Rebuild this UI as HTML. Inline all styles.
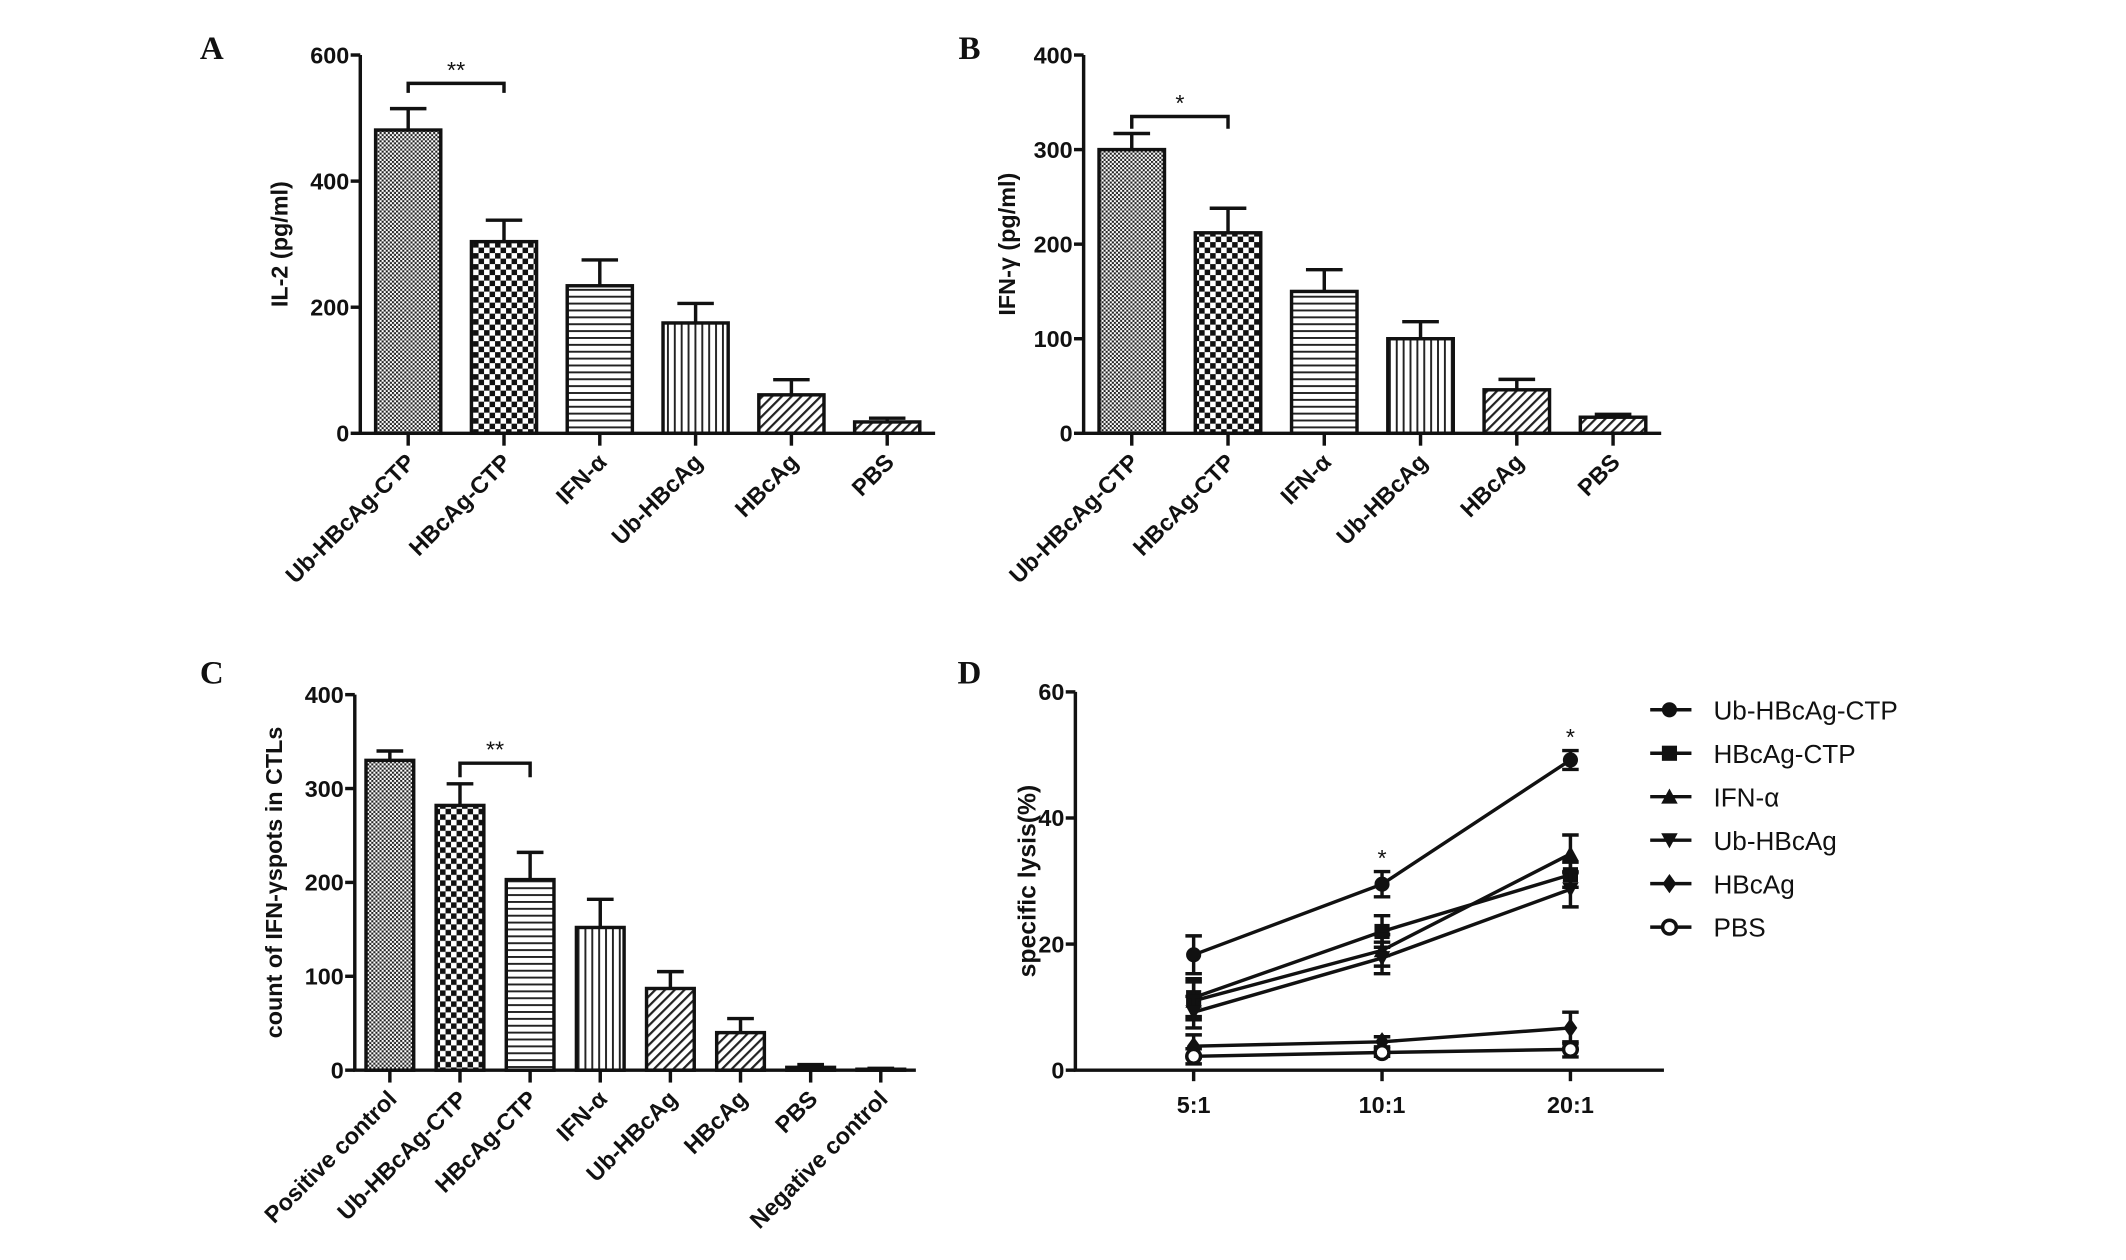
<!DOCTYPE html>
<html><head><meta charset="utf-8"><style>
html,body{margin:0;padding:0;background:#fff}
svg{display:block}
text{font-family:"Liberation Sans",Arial,sans-serif;font-weight:bold;fill:#111}
text.serif{font-family:"Liberation Serif",serif;font-weight:bold}
text.norm{font-weight:normal}
</style></head><body>
<svg id="fig" width="2126" height="1260" viewBox="0 0 1546 916" preserveAspectRatio="none" xmlns="http://www.w3.org/2000/svg">
<defs>
<pattern id="pFine" width="3" height="3" patternUnits="userSpaceOnUse"><rect width="3" height="3" fill="#fff"/><rect width="1.5" height="1.5" fill="#222"/><rect x="1.5" y="1.5" width="1.5" height="1.5" fill="#222"/></pattern>
<pattern id="pCheck" width="8" height="8" patternUnits="userSpaceOnUse"><rect width="8" height="8" fill="#fff"/><rect width="4" height="4" fill="#111"/><rect x="4" y="4" width="4" height="4" fill="#111"/></pattern>
<pattern id="pHoriz" width="6" height="5" patternUnits="userSpaceOnUse"><rect width="6" height="5" fill="#fff"/><rect y="0" width="6" height="1.4" fill="#222"/></pattern>
<pattern id="pVert" width="5" height="6" patternUnits="userSpaceOnUse"><rect width="5" height="6" fill="#fff"/><rect x="0" width="1.4" height="6" fill="#222"/></pattern>
<pattern id="pDiag" width="5" height="5" patternUnits="userSpaceOnUse" patternTransform="rotate(45)"><rect width="5" height="5" fill="#fff"/><rect width="1.6" height="5" fill="#222"/></pattern>
</defs>
</svg>
<script>
// ---- Panel A data ----
const catsA = ["Ub-HBcAg-CTP","HBcAg-CTP","IFN-α","Ub-HBcAg","HBcAg","PBS"];
const valsA = [481, 304, 234, 175, 61, 18];
const errsA = [34, 34, 41, 31, 24, 6];
const ticksA = [0, 200, 400, 600];
// ---- Panel B data ----
const catsB = ["Ub-HBcAg-CTP","HBcAg-CTP","IFN-α","Ub-HBcAg","HBcAg","PBS"];
const valsB = [300, 212, 150, 100, 46, 17];
const errsB = [17, 26, 23, 18, 11, 3];
const ticksB = [0, 100, 200, 300, 400];
// ---- Panel C data ----
const catsC = ["Positive control","Ub-HBcAg-CTP","HBcAg-CTP","IFN-α","Ub-HBcAg","HBcAg","PBS","Negative control"];
const valsC = [330, 282, 203, 152, 87, 40, 3, 1];
const errsC = [10, 23, 29, 30, 18, 15, 3, 1];
const ticksC = [0, 100, 200, 300, 400];
// ---- Panel D data ----
const catsD = ["5:1","10:1","20:1"];
const seriesNames = ["Ub-HBcAg-CTP","HBcAg-CTP","IFN-α","Ub-HBcAg","HBcAg","PBS"];
const dUbCTP = [18.3, 29.5, 49.2];
const dHCTP  = [11.5, 22.0, 31.0];
const dIFN   = [11.0, 19.0, 34.3];
const dUb    = [9.2, 17.8, 28.7];
const dHBc   = [3.8, 4.5, 6.7];
const dPBS   = [2.2, 2.8, 3.3];
const eUbCTP = [3.0, 2.0, 1.5];
const eHCTP  = [3.0, 2.5, 2.0];
const eIFN   = [3.0, 2.5, 3.0];
const eUb    = [2.5, 2.5, 2.8];
const eHBc   = [1.8, 0.8, 2.5];
const ePBS   = [1.2, 0.6, 1.2];
const ticksD = [0, 20, 40, 60];

const NS = "http://www.w3.org/2000/svg";
const svg = document.getElementById('fig');
function el(tag, attrs, parent){
  const e = document.createElementNS(NS, tag);
  for (const k in attrs) e.setAttribute(k, attrs[k]);
  (parent||svg).appendChild(e); return e;
}
function txt(x,y,s,size,anchor,parent,extra){
  const t = el('text',Object.assign({x:x,y:y,'font-size':size,'text-anchor':anchor||'middle'},extra||{}),parent);
  t.textContent = s; return t;
}

function barPanel(id, letter, lx, ly, x0, x1, yTop, yBot, max, cats, vals, errs, ticks, pats, ytitle, ttlX, bracket){
  const g = el('g',{});
  
  
  const Y = v => yBot - (v/max)*(yBot-yTop);
  const step = (x1-x0)/cats.length;
  const X = i => x0 + step*(i+0.5);
  const L = txt(lx,ly,letter,24,'middle',g,{'class':'serif'});
  
  
  cats.forEach((c,i)=>{
    const bw = step*0.68;
    const top = Y(vals[i]), et = Y(vals[i]+errs[i]);
    const eb = el('path',{d:`M${X(i)} ${top} V${et} M${X(i)-bw*0.28} ${et} H${X(i)+bw*0.28}`,stroke:'#111','stroke-width':2.5,fill:'none'},g);
    
    
    const r = el('rect',{x:X(i)-bw/2,y:top,width:bw,height:yBot-top,fill:'url(#'+pats[i]+')',stroke:'#111','stroke-width':2.5},g);
    
    
    el('line',{x1:X(i),x2:X(i),y1:yBot,y2:yBot+9,stroke:'#111','stroke-width':2.5},g);
    const t = txt(0,0,c,17,'end',g,{transform:`translate(${X(i)+6},${yBot+22}) rotate(-45)`});
    
    
  });
  const ax = el('path',{d:`M${x0} ${yTop} V${yBot} H${x1}`,stroke:'#111','stroke-width':2.5,fill:'none'},g);
  
  
  ticks.forEach(v=>{
    el('line',{x1:x0-7,x2:x0,y1:Y(v),y2:Y(v),stroke:'#111','stroke-width':2.5},g);
    const t = txt(x0-8,Y(v)+6,String(v),17,'end',g);
    
    
  });
  const yt = txt(0,0,ytitle,17,'middle',g,{transform:`translate(${ttlX},${(yTop+yBot)/2}) rotate(-90)`});
  
  
  const [a,b,lvl,drop,stars] = bracket;
  const bp = el('path',{d:`M${X(a)} ${Y(drop)} V${Y(lvl)} H${X(b)} V${Y(drop)}`,stroke:'#111','stroke-width':2.5,fill:'none'},g);
  
  
  const st = txt((X(a)+X(b))/2,Y(lvl)-4,stars,17,'middle',g,{'class':'norm'});
  
  
}

barPanel('a','A',154,43,262,680,40,315,600,catsA,valsA,errsA,ticksA,
  ['pFine','pCheck','pHoriz','pVert','pDiag','pDiag'],'IL-2 (pg/ml)',209,[0,1,555,540,'**']);
barPanel('b','B',705,43,788,1208,40,315,400,catsB,valsB,errsB,ticksB,
  ['pFine','pCheck','pHoriz','pVert','pDiag','pDiag'],'IFN-γ  (pg/ml)',738,[0,1,335,322,'*']);
barPanel('c','C',154,497,258,666,505,778,400,catsC,valsC,errsC,ticksC,
  ['pFine','pCheck','pHoriz','pVert','pDiag','pDiag','pDiag','pDiag'],'count of IFN-γspots in CTLs',205,[1,2,327,312,'**']);

(function(){
  const g = el('g',{});
  
  
  const x0=782,x1=1210,yTop=503,yBot=778,max=60;
  const Y = v => yBot - (v/max)*(yBot-yTop);
  const xs=[868,1005,1142];
  const X = i => xs[0] + i*(xs[1]-xs[0]);
  const L = txt(705,497,'D',24,'middle',g,{'class':'serif'});
  
  
  const ax = el('path',{d:`M${x0} ${yTop} V${yBot} H${x1}`,stroke:'#111','stroke-width':2.5,fill:'none'},g);
  
  
  ticksD.forEach(v=>{
    el('line',{x1:x0-7,x2:x0,y1:Y(v),y2:Y(v),stroke:'#111','stroke-width':2.5},g);
    const t=txt(x0-8,Y(v)+6,String(v),17,'end',g);
    
    
  });
  catsD.forEach((c,i)=>{
    el('line',{x1:X(i),x2:X(i),y1:yBot,y2:yBot+8,stroke:'#111','stroke-width':2.5},g);
    const t=txt(X(i),yBot+31,c,17,'middle',g);
    
    
  });
  const yt = txt(0,0,'specific lysis(%)',18,'middle',g,{transform:`translate(753,${(yTop+yBot)/2}) rotate(-90)`});
  
  
  const data=[dUbCTP,dHCTP,dIFN,dUb,dHBc,dPBS];
  const errs=[eUbCTP,eHCTP,eIFN,eUb,eHBc,ePBS];
  const shapes=['circle','square','tri','tridown','diamond','ocircle'];
  function marker(s,x,y,p){
    if(s==='circle') return el('circle',{cx:x,cy:y,r:5.5,fill:'#111'},p);
    if(s==='ocircle') return el('circle',{cx:x,cy:y,r:5,fill:'#fff',stroke:'#111','stroke-width':2.5},p);
    if(s==='square') return el('rect',{x:x-5.5,y:y-5.5,width:11,height:11,fill:'#111'},p);
    if(s==='tri') return el('path',{d:`M${x} ${y-6} L${x+6} ${y+5} L${x-6} ${y+5}Z`,fill:'#111'},p);
    if(s==='tridown') return el('path',{d:`M${x} ${y+6} L${x+6} ${y-5} L${x-6} ${y-5}Z`,fill:'#111'},p);
    return el('path',{d:`M${x} ${y-7} L${x+5} ${y} L${x} ${y+7} L${x-5} ${y}Z`,fill:'#111'},p);
  }
  data.forEach((d,si)=>{
    const sg = el('g',{},g);
    
    
    const pts = d.map((v,i)=>X(i)+','+Y(v)).join(' ');
    const ln = el('polyline',{points:pts,fill:'none',stroke:'#111','stroke-width':2.5},sg);
    
    
    d.forEach((v,i)=>{
      const e=errs[si][i];
      const eb=el('path',{d:`M${X(i)} ${Y(v+e)} V${Y(v-e)} M${X(i)-6} ${Y(v+e)} H${X(i)+6} M${X(i)-6} ${Y(v-e)} H${X(i)+6}`,stroke:'#111','stroke-width':2.5,fill:'none'},sg);
      
      
      const m=marker(shapes[si],X(i),Y(v),sg);
      
      
    });
  });
  [1,2].forEach(i=>{
    const s=txt(X(i),Y(dUbCTP[i]+eUbCTP[i])-4,'*',17,'middle',g,{'class':'norm'});
    
    
  });
  const lg = el('g',{},g);
  
  
  seriesNames.forEach((n,i)=>{
    const y=516+i*31.6;
    const le = el('g',{},lg);
    
    
    el('line',{x1:1200,x2:1230,y1:y,y2:y,stroke:'#111','stroke-width':2.5},le);
    marker(shapes[i],1214,y,le);
    txt(1246,y+7,n,19,'start',le,{'class':'norm'});
  });
})();
</script>
</body></html>
